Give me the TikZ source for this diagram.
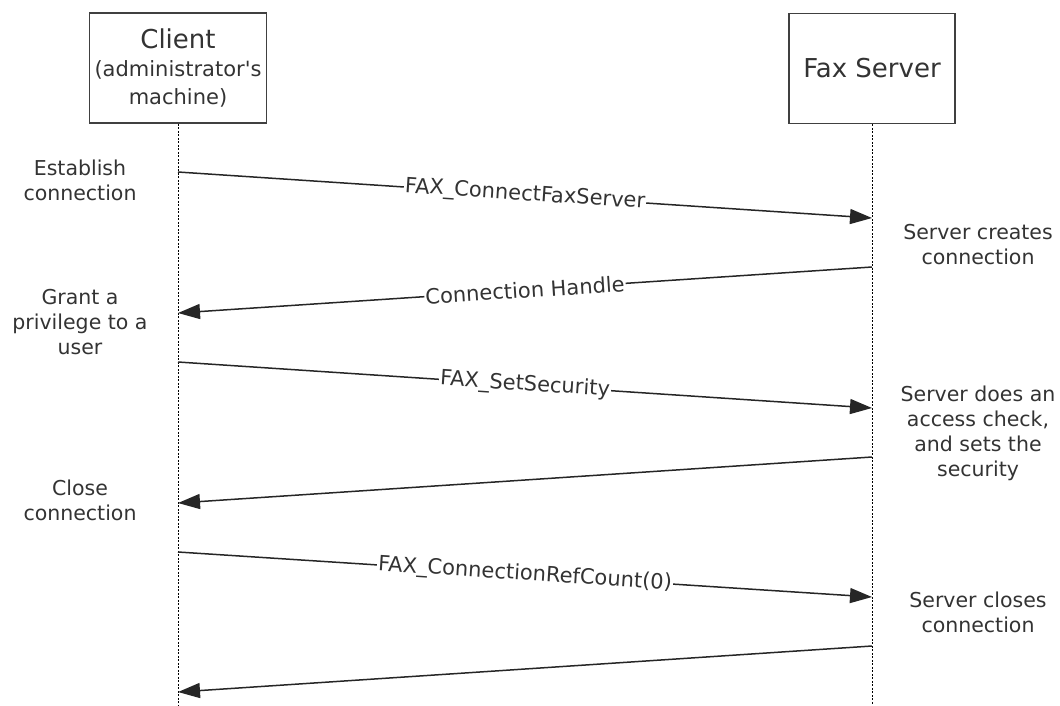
\documentclass[tikz,border=0pt]{standalone}
\usepackage{fontspec}
\setmainfont{DejaVu Sans}
\usetikzlibrary{arrows.meta,positioning}
\definecolor{fxtext}{HTML}{333333}
\definecolor{fxline}{HTML}{404040}
\newcommand{\bigname}[1]{{\fontsize{26}{28}\selectfont #1}}
\tikzset{
  actor/.style={draw=fxline,line width=1.6pt,align=center,minimum height=110pt,
                inner sep=2pt,font=\fontsize{21}{28}\selectfont,text=fxtext},
  lifeline/.style={black,line width=1pt,dash pattern=on 2pt off 1.5pt},
  note/.style={align=center,font=\fontsize{20.5}{25}\selectfont,text=fxtext,inner sep=1pt},
  msg/.style={-{Triangle[length=22pt,width=15pt]},line width=1.5pt,black!85},
  mlab/.style={font=\fontsize{21}{24}\selectfont,text=fxtext,fill=white,inner sep=1pt,sloped},
}
\begin{document}
\begin{tikzpicture}[x=1pt,y=-1pt]
    \useasboundingbox (0,0) rectangle (1060,705);
    % participants
    \node[actor,minimum width=177pt] (client) at (178,68)
      {\bigname{Client}\\(administrator\textquotesingle s\\machine)};
    \node[actor,minimum width=166pt] (server) at (872,68.5) {\bigname{Fax Server}};
    \coordinate (bot) at (0,705);
    \draw[lifeline] (client.south) -- (client.south |- bot);
    \draw[lifeline] (server.south) -- (server.south |- bot);
    % message end points on the lifelines
    \foreach \j/\ya/\yb in {1/172/218,2/313/267,3/362/408,4/503/457,5/552/597,6/692/646}
      {\coordinate (c\j) at (178,\ya);
       \coordinate (s\j) at (872,\yb);}
    % messages
    \draw[msg] (c1) -- node[mlab] {FAX\_ConnectFaxServer} (s1);
    \draw[msg] (s2) -- node[mlab] {Connection Handle} (c2);
    \draw[msg] (c3) -- node[mlab] {FAX\_SetSecurity} (s3);
    \draw[msg] (s4) -- (c4);
    \draw[msg] (c5) -- node[mlab] {FAX\_ConnectionRefCount(0)} (s5);
    \draw[msg] (s6) -- (c6);
    % side notes
    \node[note] (n1) at (80,180) {Establish\\connection};
    \node[note] (n2) at (80,322) {Grant a\\privilege to a\\user};
    \node[note] (n3) at (80,500) {Close\\connection};
    \node[note] (n4) at (978,245) {Server creates\\connection};
    \node[note] (n5) at (978,433) {Server does an\\access check,\\and sets the\\security};
    \node[note] (n6) at (978,612) {Server closes\\connection};
\end{tikzpicture}
\end{document}
